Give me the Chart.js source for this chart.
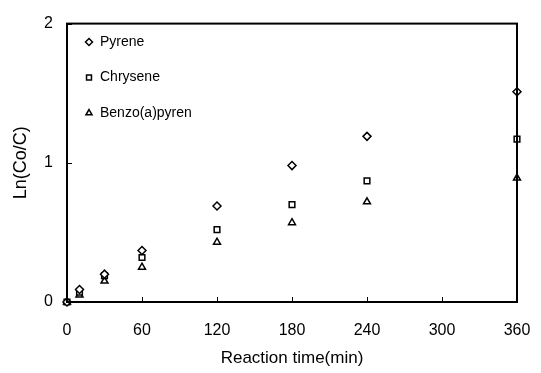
<!DOCTYPE html>
<html>
<head>
<meta charset="utf-8">
<script src="https://cdn.jsdelivr.net/npm/chart.js"></script>
</head>
<body style="margin:0;padding:0;background:#fff">
<div style="width:541px;height:373px"><canvas id="canvas"></canvas></div>
<script>
const times = [0, 10, 30, 60, 120, 180, 240, 360];
const pyrene = [0, 0.09, 0.20, 0.37, 0.69, 0.98, 1.19, 1.51];
const chrysene = [0, 0.07, 0.19, 0.32, 0.52, 0.70, 0.87, 1.17];
const benzo = [0, 0.05, 0.15, 0.25, 0.43, 0.57, 0.72, 0.89];
const xTicks = [0, 60, 120, 180, 240, 300, 360];
const yTicks = [0, 1, 2];

const font = 'Liberation Sans, Arial, sans-serif';
const mk = (label, vals, style, r) => ({
    label: label,
    data: times.map((t, i) => ({x: t, y: vals[i]})),
    pointStyle: style,
    pointRadius: r,
    pointBorderColor: '#000',
    pointBackgroundColor: '#fff',
    pointBorderWidth: 1.5,
    showLine: false
});

const frame = {
    id: 'frame',
    afterDatasetsDraw(chart) {
        const {ctx, chartArea: a, scales} = chart;
        ctx.save();
        ctx.strokeStyle = '#000';
        ctx.lineWidth = 2;
        ctx.strokeRect(a.left, a.top, a.right - a.left, a.bottom - a.top);
        ctx.lineWidth = 1;
        ctx.beginPath();
        for (const v of xTicks) {
            const x = Math.round(scales.x.getPixelForValue(v)) + 0.5;
            ctx.moveTo(x, a.bottom); ctx.lineTo(x, a.bottom - 5);
        }
        for (const v of yTicks) {
            const y = Math.round(scales.y.getPixelForValue(v)) + 0.5;
            ctx.moveTo(a.left, y); ctx.lineTo(a.left + 5, y);
        }
        ctx.stroke();
        // legend inside plot
        ctx.font = '14px ' + font;
        ctx.textBaseline = 'middle';
        ctx.strokeStyle = '#000';
        ctx.lineWidth = 1.5;
        chart.data.datasets.forEach((d, i) => {
            const y = 42 + i * 35.5;
            ctx.fillStyle = '#fff';
            Chart.helpers.drawPoint(ctx, {pointStyle: d.pointStyle, radius: 3.5, borderWidth: 1.5}, 89, y);
            ctx.fillStyle = '#000';
            ctx.fillText(d.label, 100, y);
        });
        ctx.restore();
    }
};

new Chart(document.getElementById('canvas'), {
    type: 'scatter',
    data: {datasets: [
        mk('Pyrene', pyrene, 'rectRot', 4),
        mk('Chrysene', chrysene, 'rect', 4),
        mk('Benzo(a)pyren', benzo, 'triangle', 4)
    ]},
    options: {
        responsive: true,
        maintainAspectRatio: false,
        animation: false,
        clip: false,
        layout: {padding: {top: 12, right: 24, left: 0, bottom: 0}},
        plugins: {legend: {display: false}, tooltip: {enabled: false}},
        scales: {
            x: {
                type: 'linear', min: 0, max: 360,
                afterBuildTicks: s => { s.ticks = xTicks.map(v => ({value: v})); },
                afterFit: s => { s.height = 71; s.paddingLeft = 0; s.paddingRight = 0; },
                grid: {display: false, drawTicks: false},
                border: {display: false},
                ticks: {color: '#000', padding: 19, font: {family: font, size: 16}},
                title: {display: true, text: 'Reaction time(min)', color: '#000', font: {family: font, size: 17}, padding: {top: 2}}
            },
            y: {
                min: 0, max: 2,
                afterBuildTicks: s => { s.ticks = yTicks.map(v => ({value: v})); },
                afterFit: s => { s.width = 67; },
                grid: {display: false, drawTicks: false},
                border: {display: false},
                ticks: {color: '#000', padding: 14, font: {family: font, size: 16}},
                title: {display: true, text: 'Ln(Co/C)', color: '#000', font: {family: font, size: 18}, padding: {top: 10, bottom: 4}}
            }
        }
    },
    plugins: [frame]
});
</script>
</body>
</html>
